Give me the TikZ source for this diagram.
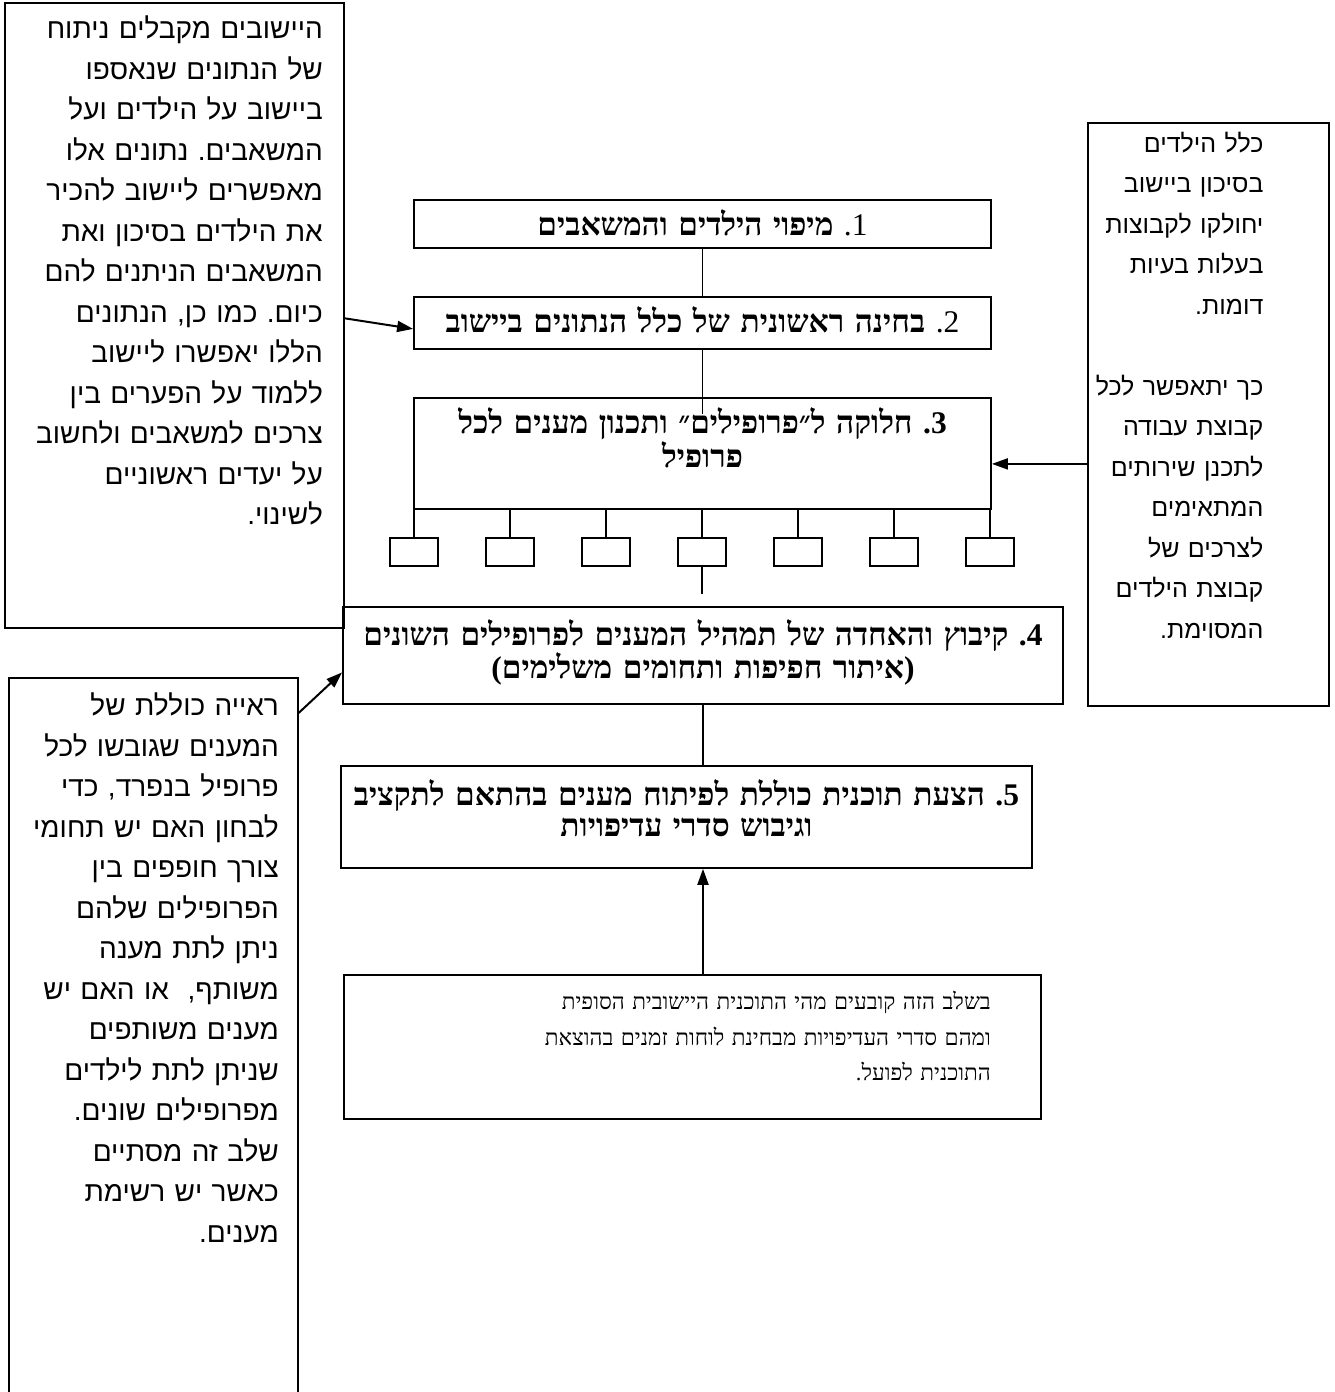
\documentclass[tikz,border=0pt]{standalone}
\usepackage{fontspec}
\usetikzlibrary{arrows.meta}
\newfontfamily\hebsans[Script=Hebrew]{Liberation Sans}
\newfontfamily\hebserif[Script=Hebrew]{Liberation Serif}
\TeXXeTstate=1
\frenchspacing
\newcommand{\rtl}[1]{\beginR #1\endR}

\begin{document}
\begin{tikzpicture}[x=1pt,y=-1pt,
    stage/.style={draw,line width=1.8pt,anchor=north,align=center,inner sep=0pt,
      font=\hebserif\bfseries\fontsize{31.5}{31}\selectfont},
    note/.style={draw,line width=1.6pt,anchor=north west,align=right,inner ysep=0pt,
      font=\hebsans\fontsize{28}{40.5}\selectfont},
    prof/.style={draw,line width=1.4pt,minimum width=48pt,minimum height=28pt,inner sep=0pt},
    link/.style={line width=1.4pt},
    arr/.style={line width=2pt,-{Triangle[length=16pt,width=11pt]}}]
  \useasboundingbox (0,0) rectangle (1335,1392);

  \node[stage,text width=577pt,text height=35.5pt,text depth=12.5pt] (S1) at (702.5,199)
       {\rtl{{\mdseries 1}\kern0pt{\mdseries .} מיפוי הילדים והמשאבים}};
  \node[stage,text width=577pt,text height=36pt,text depth=16pt] (S2) at (702.5,296)
       {\rtl{{\mdseries 2}\kern0pt{\mdseries .} בחינה ראשונית של כלל הנתונים ביישוב}};
  \node[stage,text width=577pt,text height=36pt,text depth=75pt] (S3) at (702.5,397)
       {\rtl{3\kern0pt. חלוקה ל״פרופילים״ ותכנון מענים לכל}\\\rtl{פרופיל}};
  \node[stage,text width=720pt,text height=39pt,text depth=58pt] (S4) at (703,606)
       {\rtl{4\kern0pt. קיבוץ והאחדה של תמהיל המענים לפרופילים השונים}\\\rtl{(איתור חפיפות ותחומים משלימים)}};
  \node[stage,text width=691pt,text height=40pt,text depth=62pt] (S5) at (686.5,765)
       {\rtl{5\kern0pt. הצעת תוכנית כוללת לפיתוח מענים בהתאם לתקציב}\\\rtl{וגיבוש סדרי עדיפויות}};

  \node[note,text width=297pt,inner xsep=21pt,text height=36pt,text depth=589pt] (L1) at (4,2)
       {\rtl{היישובים מקבלים ניתוח}\\
        \rtl{של הנתונים שנאספו}\\
        \rtl{ביישוב על הילדים ועל}\\
        \rtl{המשאבים. נתונים אלו}\\
        \rtl{מאפשרים ליישוב להכיר}\\
        \rtl{את הילדים בסיכון ואת}\\
        \rtl{המשאבים הניתנים להם}\\
        \rtl{כיום. כמו כן, הנתונים}\\
        \rtl{הללו יאפשרו ליישוב}\\
        \rtl{ללמוד על הפערים בין}\\
        \rtl{צרכים למשאבים ולחשוב}\\
        \rtl{על יעדים ראשוניים}\\
        \rtl{לשינוי.}};
  \node[note,text width=251pt,inner xsep=19pt,text height=38pt,text depth=680pt] (L2) at (8,677)
       {\rtl{ראייה כוללת של}\\
        \rtl{המענים שגובשו לכל}\\
        \rtl{פרופיל בנפרד, כדי}\\
        \rtl{לבחון האם יש תחומי}\\
        \rtl{צורך חופפים בין}\\
        \rtl{הפרופילים שלהם}\\
        \rtl{ניתן לתת מענה}\\
        \rtl{משותף,\ \ או האם יש}\\
        \rtl{מענים משותפים}\\
        \rtl{שניתן לתת לילדים}\\
        \rtl{מפרופילים שונים.}\\
        \rtl{שלב זה מסתיים}\\
        \rtl{כאשר יש רשימת}\\
        \rtl{מענים.}};
  \node[draw,line width=1.6pt,anchor=north west,minimum width=241pt,minimum height=583pt,inner sep=0pt]
       (R) at (1087,122) {};
  \node[anchor=north east,align=right,inner sep=0pt,text width=200pt,text height=30pt,
        font=\hebsans\fontsize{25}{40.5}\selectfont] (Rtext) at ([xshift=-66pt]R.north east)
       {\rtl{כלל הילדים}\\
        \rtl{בסיכון ביישוב}\\
        \rtl{יחולקו לקבוצות}\\
        \rtl{בעלות בעיות}\\
        \rtl{דומות.}\\[40.5pt]
        \rtl{כך יתאפשר לכל}\\
        \rtl{קבוצת עבודה}\\
        \rtl{לתכנן שירותים}\\
        \rtl{המתאימים}\\
        \rtl{לצרכים של}\\
        \rtl{קבוצת הילדים}\\
        \rtl{המסוימת.}};
  \node[note,font=\hebserif\fontsize{22.5}{35.5}\selectfont,text width=597pt,inner xsep=50pt,
        text height=35pt,text depth=109pt] (B) at (343,974)
       {\rtl{בשלב הזה קובעים מהי התוכנית היישובית הסופית}\\
        \rtl{ומהם סדרי העדיפויות מבחינת לוחות זמנים בהוצאת}\\
        \rtl{התוכנית לפועל.}};

  \foreach \i in {0,...,6} {
    \node[prof] (P\i) at (414+96*\i,552) {};
    \draw[link] (P\i.north) -- (P\i.north |- S3.south);
  }
  \coordinate (P3end) at (702,594);
  \coordinate (S2in) at (702.5,414);
  \coordinate (S3in) at ([yshift=-10.5pt]S3.east);

  \draw[link] (S1.south) -- (S2.north);
  \draw[link] (S2.south) -- (S2in);
  \draw[link] (P3.south) -- (P3end);
  \draw[link] (S4.south) -- (S4.south |- S5.north);
  \draw[arr] ([yshift=-3pt]L1.east) -- ([yshift=-6pt]S2.west);
  \draw[arr] (R.west |- S3in) -- (S3in);
  \draw[arr] ([yshift=-36pt]L2.north east) -- ([yshift=-17pt]S4.west);
  \draw[arr] (S4.south |- B.north) -- (S4.south |- S5.south);
\end{tikzpicture}
\end{document}
